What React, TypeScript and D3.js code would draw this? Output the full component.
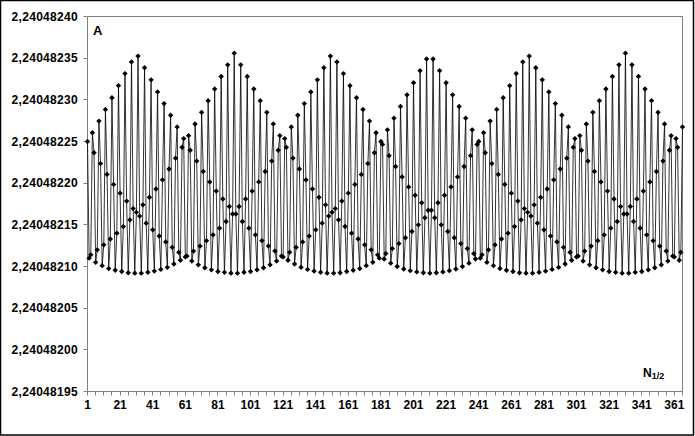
import React from "react";
import * as d3 from "d3";

// Values are offsets above valueBase, in units of 1e-8
const valueBase = 2.24048195;
const valueOffsetsE8: number[] = [
  30.0, 16.0, 16.4, 31.05,
  28.65, 15.5, 17.0, 32.45,
  27.35, 15.1, 17.6, 33.85,
  26.05, 14.75, 18.3, 35.25,
  24.85, 14.55, 19.0, 36.7,
  23.8, 14.4, 19.8, 38.15,
  22.85, 14.25, 20.6, 39.55,
  21.95, 14.2, 21.5, 40.25,
  21.05, 14.2, 22.4, 38.85,
  20.2, 14.3, 23.3, 37.4,
  19.4, 14.45, 24.3, 35.95,
  18.65, 14.65, 25.4, 34.55,
  17.95, 14.9, 26.7, 33.15,
  17.3, 15.3, 28.0, 31.75,
  16.7, 15.75, 29.3, 30.35,
  16.15, 16.25, 30.7, 28.95,
  15.65, 16.85, 32.1, 27.65,
  15.2, 17.45, 33.5, 26.4,
  14.85, 18.1, 34.9, 25.15,
  14.6, 18.8, 36.3, 24.05,
  14.4, 19.6, 37.8, 23.1,
  14.3, 20.4, 39.2, 22.2,
  14.2, 21.3, 40.6, 21.3,
  14.2, 22.2, 39.2, 20.4,
  14.3, 23.1, 37.8, 19.6,
  14.4, 24.05, 36.3, 18.8,
  14.6, 25.15, 34.9, 18.1,
  14.85, 26.4, 33.5, 17.45,
  15.2, 27.65, 32.1, 16.85,
  15.65, 28.95, 30.7, 16.25,
  16.15, 30.35, 29.3, 15.75,
  16.7, 31.75, 28.0, 15.3,
  17.3, 33.15, 26.7, 14.9,
  17.95, 34.55, 25.4, 14.65,
  18.65, 35.95, 24.3, 14.45,
  19.4, 37.4, 23.3, 14.3,
  20.2, 38.85, 22.4, 14.2,
  21.05, 40.25, 21.5, 14.2,
  21.95, 39.55, 20.6, 14.25,
  22.85, 38.15, 19.8, 14.4,
  23.8, 36.7, 19.0, 14.55,
  24.85, 35.25, 18.3, 14.75,
  26.05, 33.85, 17.6, 15.1,
  27.35, 32.45, 17.0, 15.5,
  28.65, 31.05, 16.4, 16.0,
  30.0, 29.65, 15.9, 16.55,
  31.4, 28.3, 15.4, 17.15,
  32.8, 27.0, 15.0, 17.75,
  34.2, 25.75, 14.7, 18.45,
  35.6, 24.55, 14.5, 19.2,
  37.05, 23.55, 14.35, 20.0,
  38.5, 22.65, 14.25, 20.85,
  39.9, 21.75, 14.2, 21.75,
  39.9, 20.85, 14.25, 22.65,
  38.5, 20.0, 14.35, 23.55,
  37.05, 19.2, 14.5, 24.55,
  35.6, 18.45, 14.7, 25.75,
  34.2, 17.75, 15.0, 27.0,
  32.8, 17.15, 15.4, 28.3,
  31.4, 16.55, 15.9, 29.65,
  30.0, 16.0, 16.4, 31.05,
  28.65, 15.5, 17.0, 32.45,
  27.35, 15.1, 17.6, 33.85,
  26.05, 14.75, 18.3, 35.25,
  24.85, 14.55, 19.0, 36.7,
  23.8, 14.4, 19.8, 38.15,
  22.85, 14.25, 20.6, 39.55,
  21.95, 14.2, 21.5, 40.25,
  21.05, 14.2, 22.4, 38.85,
  20.2, 14.3, 23.3, 37.4,
  19.4, 14.45, 24.3, 35.95,
  18.65, 14.65, 25.4, 34.55,
  17.95, 14.9, 26.7, 33.15,
  17.3, 15.3, 28.0, 31.75,
  16.7, 15.75, 29.3, 30.35,
  16.15, 16.25, 30.7, 28.95,
  15.65, 16.85, 32.1, 27.65,
  15.2, 17.45, 33.5, 26.4,
  14.85, 18.1, 34.9, 25.15,
  14.6, 18.8, 36.3, 24.05,
  14.4, 19.6, 37.8, 23.1,
  14.3, 20.4, 39.2, 22.2,
  14.2, 21.3, 40.6, 21.3,
  14.2, 22.2, 39.2, 20.4,
  14.3, 23.1, 37.8, 19.6,
  14.4, 24.05, 36.3, 18.8,
  14.6, 25.15, 34.9, 18.1,
  14.85, 26.4, 33.5, 17.45,
  15.2, 27.65, 32.1, 16.85,
  15.65, 28.95, 30.7, 16.25,
  16.15, 30.35, 29.3, 15.75,
  16.7, 31.75,
];

const categories: number[] = valueOffsetsE8.map((_, i) => i + 1);

const xTickLabels = ["1", "21", "41", "61", "81", "101", "121", "141", "161", "181", "201", "221", "241", "261", "281", "301", "321", "341", "361"];
const yTickValues = [2.24048195, 2.240482, 2.24048205, 2.2404821, 2.24048215, 2.2404822, 2.24048225, 2.2404823, 2.24048235, 2.2404824];
const yTickLabels = ["2,24048195", "2,24048200", "2,24048205", "2,24048210", "2,24048215", "2,24048220", "2,24048225", "2,24048230", "2,24048235", "2,24048240"];

const W = 695;
const H = 436;
const left = 87.5;
const right = 682.5;
const top = 16.5;
const bottom = 391.5;
const font = "Arial, 'Liberation Sans', sans-serif";

export default function App() {
  const x = d3.scaleLinear().domain([1, categories.length]).range([left, right]);
  const y = d3.scaleLinear().domain([yTickValues[0], yTickValues[yTickValues.length - 1]]).range([bottom, top]);
  const pts = categories.map((n, i) => [x(n), y(valueBase + valueOffsetsE8[i] * 1e-8)] as [number, number]);
  const line = d3.line()(pts) || "";
  const r = 2.7;
  const diamond = `M0,${-r}L${r},0L0,${r}L${-r},0Z`;
  const minorTicks = d3.range(1, categories.length + 1, 5);

  return (
    <svg width={W} height={H} style={{ display: "block" }}>
      <style>{`body{margin:0}`}</style>
      <rect x={0.5} y={0.5} width={W - 2} height={H - 1.5} fill="#fff" stroke="#000" strokeWidth={1.5} />
      {/* plot border */}
      <line x1={left} x2={right} y1={top} y2={top} stroke="#808080" />
      <line x1={right} x2={right} y1={top} y2={bottom} stroke="#808080" />
      {/* y axis */}
      <line x1={left} x2={left} y1={top} y2={bottom} stroke="#808080" />
      {yTickValues.map((v, i) => (
        <g key={i}>
          <line x1={left - 4} x2={left} y1={Math.round(y(v) - 0.5) + 0.5} y2={Math.round(y(v) - 0.5) + 0.5} stroke="#808080" />
          <text x={78} y={y(v)} dy="0.36em" textAnchor="end" fontFamily={font} fontSize={12} fontWeight="bold" letterSpacing={0.3} fill="#000">
            {yTickLabels[i]}
          </text>
        </g>
      ))}
      {/* x axis */}
      <line x1={left} x2={right} y1={bottom} y2={bottom} stroke="#808080" />
      {minorTicks.map((n) => (
        <line key={n} x1={Math.round(x(n) - 0.5) + 0.5} x2={Math.round(x(n) - 0.5) + 0.5} y1={bottom} y2={bottom + 4} stroke="#808080" />
      ))}
      {xTickLabels.map((t) => (
        <text key={t} x={x(+t)} y={409} textAnchor="middle" fontFamily={font} fontSize={12} fontWeight="bold" fill="#000">
          {t}
        </text>
      ))}
      {/* series */}
      <path d={line} fill="none" stroke="#000" strokeWidth={0.8} />
      {pts.map((p, i) => (
        <path key={i} d={diamond} transform={`translate(${p[0]},${p[1]})`} fill="#000" />
      ))}
      <text x={93} y={35} fontFamily={font} fontSize={13} fontWeight="bold" fill="#000">A</text>
      <text x={643} y={377} fontFamily={font} fontSize={12} fontWeight="bold" fill="#000">
        N<tspan fontSize={9} dy={2}>1/2</tspan>
      </text>
    </svg>
  );
}
